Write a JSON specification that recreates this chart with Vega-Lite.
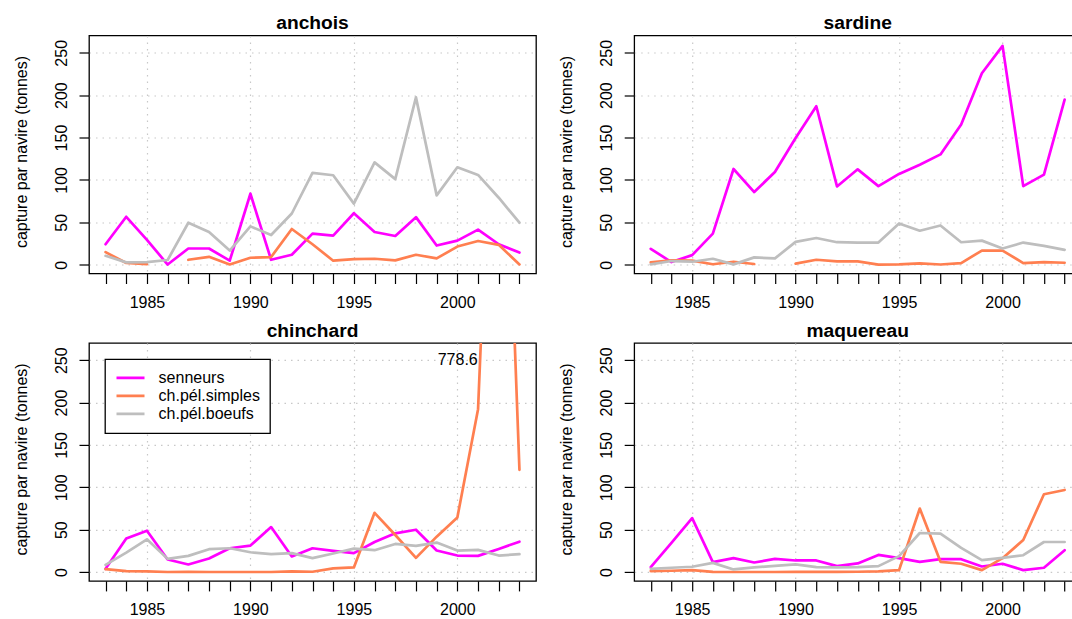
{
  "$schema": "https://vega.github.io/schema/vega-lite/v6.json",
  "padding": {"left": 12, "top": 13.5, "right": 0, "bottom": 0},
  "bounds": "flush",
  "columns": 2,
  "spacing": {"row": 69.4, "column": 98.2},
  "resolve": {"legend": {"color": "independent"}},
  "datasets": {
    "anchois": [
      {"flotte": "senneurs", "annee": 1983, "capture": 24.1},
      {"flotte": "senneurs", "annee": 1984, "capture": 56.5},
      {"flotte": "senneurs", "annee": 1985, "capture": 29.2},
      {"flotte": "senneurs", "annee": 1986, "capture": 0.2},
      {"flotte": "senneurs", "annee": 1987, "capture": 19.1},
      {"flotte": "senneurs", "annee": 1988, "capture": 19.1},
      {"flotte": "senneurs", "annee": 1989, "capture": 4.7},
      {"flotte": "senneurs", "annee": 1990, "capture": 83.7},
      {"flotte": "senneurs", "annee": 1991, "capture": 5.8},
      {"flotte": "senneurs", "annee": 1992, "capture": 11.7},
      {"flotte": "senneurs", "annee": 1993, "capture": 36.6},
      {"flotte": "senneurs", "annee": 1994, "capture": 34.3},
      {"flotte": "senneurs", "annee": 1995, "capture": 60.7},
      {"flotte": "senneurs", "annee": 1996, "capture": 38.6},
      {"flotte": "senneurs", "annee": 1997, "capture": 33.9},
      {"flotte": "senneurs", "annee": 1998, "capture": 56.1},
      {"flotte": "senneurs", "annee": 1999, "capture": 22.6},
      {"flotte": "senneurs", "annee": 2000, "capture": 28.4},
      {"flotte": "senneurs", "annee": 2001, "capture": 41.3},
      {"flotte": "senneurs", "annee": 2002, "capture": 24.1},
      {"flotte": "senneurs", "annee": 2003, "capture": 14.4},
      {"flotte": "ch.pél.simples", "annee": 1983, "capture": 14.8},
      {"flotte": "ch.pél.simples", "annee": 1984, "capture": 2.0},
      {"flotte": "ch.pél.simples", "annee": 1985, "capture": 0.5},
      {"flotte": "ch.pél.simples", "annee": 1986, "capture": null},
      {"flotte": "ch.pél.simples", "annee": 1987, "capture": 5.8},
      {"flotte": "ch.pél.simples", "annee": 1988, "capture": 9.3},
      {"flotte": "ch.pél.simples", "annee": 1989, "capture": 0.2},
      {"flotte": "ch.pél.simples", "annee": 1990, "capture": 8.2},
      {"flotte": "ch.pél.simples", "annee": 1991, "capture": 9.0},
      {"flotte": "ch.pél.simples", "annee": 1992, "capture": 42.1},
      {"flotte": "ch.pél.simples", "annee": 1993, "capture": 24.1},
      {"flotte": "ch.pél.simples", "annee": 1994, "capture": 4.7},
      {"flotte": "ch.pél.simples", "annee": 1995, "capture": 6.6},
      {"flotte": "ch.pél.simples", "annee": 1996, "capture": 7.0},
      {"flotte": "ch.pél.simples", "annee": 1997, "capture": 5.1},
      {"flotte": "ch.pél.simples", "annee": 1998, "capture": 11.7},
      {"flotte": "ch.pél.simples", "annee": 1999, "capture": 7.4},
      {"flotte": "ch.pél.simples", "annee": 2000, "capture": 21.4},
      {"flotte": "ch.pél.simples", "annee": 2001, "capture": 28.0},
      {"flotte": "ch.pél.simples", "annee": 2002, "capture": 23.4},
      {"flotte": "ch.pél.simples", "annee": 2003, "capture": 0.3},
      {"flotte": "ch.pél.boeufs", "annee": 1983, "capture": 10.5},
      {"flotte": "ch.pél.boeufs", "annee": 1984, "capture": 2.7},
      {"flotte": "ch.pél.boeufs", "annee": 1985, "capture": 3.1},
      {"flotte": "ch.pél.boeufs", "annee": 1986, "capture": 5.5},
      {"flotte": "ch.pél.boeufs", "annee": 1987, "capture": 49.5},
      {"flotte": "ch.pél.boeufs", "annee": 1988, "capture": 38.6},
      {"flotte": "ch.pél.boeufs", "annee": 1989, "capture": 16.7},
      {"flotte": "ch.pél.boeufs", "annee": 1990, "capture": 45.2},
      {"flotte": "ch.pél.boeufs", "annee": 1991, "capture": 35.0},
      {"flotte": "ch.pél.boeufs", "annee": 1992, "capture": 60.4},
      {"flotte": "ch.pél.boeufs", "annee": 1993, "capture": 108.3},
      {"flotte": "ch.pél.boeufs", "annee": 1994, "capture": 105.5},
      {"flotte": "ch.pél.boeufs", "annee": 1995, "capture": 72.0},
      {"flotte": "ch.pél.boeufs", "annee": 1996, "capture": 120.7},
      {"flotte": "ch.pél.boeufs", "annee": 1997, "capture": 100.9},
      {"flotte": "ch.pél.boeufs", "annee": 1998, "capture": 197.4},
      {"flotte": "ch.pél.boeufs", "annee": 1999, "capture": 81.8},
      {"flotte": "ch.pél.boeufs", "annee": 2000, "capture": 114.9},
      {"flotte": "ch.pél.boeufs", "annee": 2001, "capture": 105.9},
      {"flotte": "ch.pél.boeufs", "annee": 2002, "capture": 79.0},
      {"flotte": "ch.pél.boeufs", "annee": 2003, "capture": 49.5}
    ],
    "sardine": [
      {"flotte": "senneurs", "annee": 1983, "capture": 18.7},
      {"flotte": "senneurs", "annee": 1984, "capture": 3.1},
      {"flotte": "senneurs", "annee": 1985, "capture": 11.3},
      {"flotte": "senneurs", "annee": 1986, "capture": 36.6},
      {"flotte": "senneurs", "annee": 1987, "capture": 112.9},
      {"flotte": "senneurs", "annee": 1988, "capture": 85.7},
      {"flotte": "senneurs", "annee": 1989, "capture": 109.4},
      {"flotte": "senneurs", "annee": 1990, "capture": 149.5},
      {"flotte": "senneurs", "annee": 1991, "capture": 186.9},
      {"flotte": "senneurs", "annee": 1992, "capture": 92.3},
      {"flotte": "senneurs", "annee": 1993, "capture": 112.5},
      {"flotte": "senneurs", "annee": 1994, "capture": 92.7},
      {"flotte": "senneurs", "annee": 1995, "capture": 107.1},
      {"flotte": "senneurs", "annee": 1996, "capture": 118.0},
      {"flotte": "senneurs", "annee": 1997, "capture": 130.1},
      {"flotte": "senneurs", "annee": 1998, "capture": 165.5},
      {"flotte": "senneurs", "annee": 1999, "capture": 225.9},
      {"flotte": "senneurs", "annee": 2000, "capture": 258.2},
      {"flotte": "senneurs", "annee": 2001, "capture": 92.7},
      {"flotte": "senneurs", "annee": 2002, "capture": 106.3},
      {"flotte": "senneurs", "annee": 2003, "capture": 194.7},
      {"flotte": "ch.pél.simples", "annee": 1983, "capture": 2.7},
      {"flotte": "ch.pél.simples", "annee": 1984, "capture": 5.1},
      {"flotte": "ch.pél.simples", "annee": 1985, "capture": 4.7},
      {"flotte": "ch.pél.simples", "annee": 1986, "capture": 0.5},
      {"flotte": "ch.pél.simples", "annee": 1987, "capture": 3.5},
      {"flotte": "ch.pél.simples", "annee": 1988, "capture": 0.8},
      {"flotte": "ch.pél.simples", "annee": 1989, "capture": null},
      {"flotte": "ch.pél.simples", "annee": 1990, "capture": 1.2},
      {"flotte": "ch.pél.simples", "annee": 1991, "capture": 5.8},
      {"flotte": "ch.pél.simples", "annee": 1992, "capture": 3.9},
      {"flotte": "ch.pél.simples", "annee": 1993, "capture": 3.9},
      {"flotte": "ch.pél.simples", "annee": 1994, "capture": 0.1},
      {"flotte": "ch.pél.simples", "annee": 1995, "capture": 0.4},
      {"flotte": "ch.pél.simples", "annee": 1996, "capture": 1.6},
      {"flotte": "ch.pél.simples", "annee": 1997, "capture": 0.2},
      {"flotte": "ch.pél.simples", "annee": 1998, "capture": 1.9},
      {"flotte": "ch.pél.simples", "annee": 1999, "capture": 16.7},
      {"flotte": "ch.pél.simples", "annee": 2000, "capture": 16.7},
      {"flotte": "ch.pél.simples", "annee": 2001, "capture": 1.9},
      {"flotte": "ch.pél.simples", "annee": 2002, "capture": 3.1},
      {"flotte": "ch.pél.simples", "annee": 2003, "capture": 2.3},
      {"flotte": "ch.pél.boeufs", "annee": 1983, "capture": 0.4},
      {"flotte": "ch.pél.boeufs", "annee": 1984, "capture": 4.3},
      {"flotte": "ch.pél.boeufs", "annee": 1985, "capture": 3.5},
      {"flotte": "ch.pél.boeufs", "annee": 1986, "capture": 7.0},
      {"flotte": "ch.pél.boeufs", "annee": 1987, "capture": 0.4},
      {"flotte": "ch.pél.boeufs", "annee": 1988, "capture": 8.6},
      {"flotte": "ch.pél.boeufs", "annee": 1989, "capture": 7.4},
      {"flotte": "ch.pél.boeufs", "annee": 1990, "capture": 26.9},
      {"flotte": "ch.pél.boeufs", "annee": 1991, "capture": 31.5},
      {"flotte": "ch.pél.boeufs", "annee": 1992, "capture": 26.5},
      {"flotte": "ch.pél.boeufs", "annee": 1993, "capture": 26.1},
      {"flotte": "ch.pél.boeufs", "annee": 1994, "capture": 26.1},
      {"flotte": "ch.pél.boeufs", "annee": 1995, "capture": 48.7},
      {"flotte": "ch.pél.boeufs", "annee": 1996, "capture": 40.1},
      {"flotte": "ch.pél.boeufs", "annee": 1997, "capture": 46.3},
      {"flotte": "ch.pél.boeufs", "annee": 1998, "capture": 26.5},
      {"flotte": "ch.pél.boeufs", "annee": 1999, "capture": 28.4},
      {"flotte": "ch.pél.boeufs", "annee": 2000, "capture": 19.1},
      {"flotte": "ch.pél.boeufs", "annee": 2001, "capture": 26.1},
      {"flotte": "ch.pél.boeufs", "annee": 2002, "capture": 22.2},
      {"flotte": "ch.pél.boeufs", "annee": 2003, "capture": 17.5}
    ],
    "chinchard": [
      {"flotte": "senneurs", "annee": 1983, "capture": 3.9},
      {"flotte": "senneurs", "annee": 1984, "capture": 39.5},
      {"flotte": "senneurs", "annee": 1985, "capture": 48.8},
      {"flotte": "senneurs", "annee": 1986, "capture": 14.8},
      {"flotte": "senneurs", "annee": 1987, "capture": 9.0},
      {"flotte": "senneurs", "annee": 1988, "capture": 16.0},
      {"flotte": "senneurs", "annee": 1989, "capture": 28.1},
      {"flotte": "senneurs", "annee": 1990, "capture": 31.3},
      {"flotte": "senneurs", "annee": 1991, "capture": 53.1},
      {"flotte": "senneurs", "annee": 1992, "capture": 18.4},
      {"flotte": "senneurs", "annee": 1993, "capture": 28.1},
      {"flotte": "senneurs", "annee": 1994, "capture": 25.0},
      {"flotte": "senneurs", "annee": 1995, "capture": 22.3},
      {"flotte": "senneurs", "annee": 1996, "capture": 35.5},
      {"flotte": "senneurs", "annee": 1997, "capture": 45.7},
      {"flotte": "senneurs", "annee": 1998, "capture": 50.0},
      {"flotte": "senneurs", "annee": 1999, "capture": 25.4},
      {"flotte": "senneurs", "annee": 2000, "capture": 19.5},
      {"flotte": "senneurs", "annee": 2001, "capture": 19.1},
      {"flotte": "senneurs", "annee": 2002, "capture": 27.3},
      {"flotte": "senneurs", "annee": 2003, "capture": 35.9},
      {"flotte": "ch.pél.simples", "annee": 1983, "capture": 3.5},
      {"flotte": "ch.pél.simples", "annee": 1984, "capture": 1.2},
      {"flotte": "ch.pél.simples", "annee": 1985, "capture": 0.8},
      {"flotte": "ch.pél.simples", "annee": 1986, "capture": 0.1},
      {"flotte": "ch.pél.simples", "annee": 1987, "capture": 0.4},
      {"flotte": "ch.pél.simples", "annee": 1988, "capture": 0.1},
      {"flotte": "ch.pél.simples", "annee": 1989, "capture": 0.1},
      {"flotte": "ch.pél.simples", "annee": 1990, "capture": 0.1},
      {"flotte": "ch.pél.simples", "annee": 1991, "capture": 0.1},
      {"flotte": "ch.pél.simples", "annee": 1992, "capture": 0.8},
      {"flotte": "ch.pél.simples", "annee": 1993, "capture": 0.4},
      {"flotte": "ch.pél.simples", "annee": 1994, "capture": 4.3},
      {"flotte": "ch.pél.simples", "annee": 1995, "capture": 5.5},
      {"flotte": "ch.pél.simples", "annee": 1996, "capture": 69.9},
      {"flotte": "ch.pél.simples", "annee": 1997, "capture": 43.8},
      {"flotte": "ch.pél.simples", "annee": 1998, "capture": 16.8},
      {"flotte": "ch.pél.simples", "annee": 1999, "capture": 41.8},
      {"flotte": "ch.pél.simples", "annee": 2000, "capture": 64.5},
      {"flotte": "ch.pél.simples", "annee": 2001, "capture": 192.2},
      {"flotte": "ch.pél.simples", "annee": 2002, "capture": 778.6},
      {"flotte": "ch.pél.simples", "annee": 2003, "capture": 120.7},
      {"flotte": "ch.pél.boeufs", "annee": 1983, "capture": 8.6},
      {"flotte": "ch.pél.boeufs", "annee": 1984, "capture": 23.0},
      {"flotte": "ch.pél.boeufs", "annee": 1985, "capture": 38.7},
      {"flotte": "ch.pél.boeufs", "annee": 1986, "capture": 15.6},
      {"flotte": "ch.pél.boeufs", "annee": 1987, "capture": 19.1},
      {"flotte": "ch.pél.boeufs", "annee": 1988, "capture": 27.0},
      {"flotte": "ch.pél.boeufs", "annee": 1989, "capture": 28.1},
      {"flotte": "ch.pél.boeufs", "annee": 1990, "capture": 23.4},
      {"flotte": "ch.pél.boeufs", "annee": 1991, "capture": 21.1},
      {"flotte": "ch.pél.boeufs", "annee": 1992, "capture": 22.3},
      {"flotte": "ch.pél.boeufs", "annee": 1993, "capture": 16.4},
      {"flotte": "ch.pél.boeufs", "annee": 1994, "capture": 21.9},
      {"flotte": "ch.pél.boeufs", "annee": 1995, "capture": 27.7},
      {"flotte": "ch.pél.boeufs", "annee": 1996, "capture": 25.8},
      {"flotte": "ch.pél.boeufs", "annee": 1997, "capture": 33.2},
      {"flotte": "ch.pél.boeufs", "annee": 1998, "capture": 30.9},
      {"flotte": "ch.pél.boeufs", "annee": 1999, "capture": 34.8},
      {"flotte": "ch.pél.boeufs", "annee": 2000, "capture": 25.4},
      {"flotte": "ch.pél.boeufs", "annee": 2001, "capture": 26.2},
      {"flotte": "ch.pél.boeufs", "annee": 2002, "capture": 19.5},
      {"flotte": "ch.pél.boeufs", "annee": 2003, "capture": 21.1}
    ],
    "maquereau": [
      {"flotte": "senneurs", "annee": 1983, "capture": 5.9},
      {"flotte": "senneurs", "annee": 1984, "capture": 34.4},
      {"flotte": "senneurs", "annee": 1985, "capture": 63.7},
      {"flotte": "senneurs", "annee": 1986, "capture": 11.7},
      {"flotte": "senneurs", "annee": 1987, "capture": 16.4},
      {"flotte": "senneurs", "annee": 1988, "capture": 11.3},
      {"flotte": "senneurs", "annee": 1989, "capture": 15.6},
      {"flotte": "senneurs", "annee": 1990, "capture": 13.7},
      {"flotte": "senneurs", "annee": 1991, "capture": 13.7},
      {"flotte": "senneurs", "annee": 1992, "capture": 7.0},
      {"flotte": "senneurs", "annee": 1993, "capture": 10.2},
      {"flotte": "senneurs", "annee": 1994, "capture": 20.3},
      {"flotte": "senneurs", "annee": 1995, "capture": 16.4},
      {"flotte": "senneurs", "annee": 1996, "capture": 12.1},
      {"flotte": "senneurs", "annee": 1997, "capture": 15.2},
      {"flotte": "senneurs", "annee": 1998, "capture": 15.2},
      {"flotte": "senneurs", "annee": 1999, "capture": 6.6},
      {"flotte": "senneurs", "annee": 2000, "capture": 9.8},
      {"flotte": "senneurs", "annee": 2001, "capture": 2.3},
      {"flotte": "senneurs", "annee": 2002, "capture": 5.1},
      {"flotte": "senneurs", "annee": 2003, "capture": 25.8},
      {"flotte": "ch.pél.simples", "annee": 1983, "capture": 1.2},
      {"flotte": "ch.pél.simples", "annee": 1984, "capture": 1.6},
      {"flotte": "ch.pél.simples", "annee": 1985, "capture": 2.3},
      {"flotte": "ch.pél.simples", "annee": 1986, "capture": 0.2},
      {"flotte": "ch.pél.simples", "annee": 1987, "capture": 0.1},
      {"flotte": "ch.pél.simples", "annee": 1988, "capture": 0.1},
      {"flotte": "ch.pél.simples", "annee": 1989, "capture": 0.1},
      {"flotte": "ch.pél.simples", "annee": 1990, "capture": 0.2},
      {"flotte": "ch.pél.simples", "annee": 1991, "capture": 0.2},
      {"flotte": "ch.pél.simples", "annee": 1992, "capture": 0.3},
      {"flotte": "ch.pél.simples", "annee": 1993, "capture": 0.4},
      {"flotte": "ch.pél.simples", "annee": 1994, "capture": 0.8},
      {"flotte": "ch.pél.simples", "annee": 1995, "capture": 2.3},
      {"flotte": "ch.pél.simples", "annee": 1996, "capture": 75.0},
      {"flotte": "ch.pél.simples", "annee": 1997, "capture": 12.1},
      {"flotte": "ch.pél.simples", "annee": 1998, "capture": 9.8},
      {"flotte": "ch.pél.simples", "annee": 1999, "capture": 2.3},
      {"flotte": "ch.pél.simples", "annee": 2000, "capture": 16.4},
      {"flotte": "ch.pél.simples", "annee": 2001, "capture": 37.9},
      {"flotte": "ch.pél.simples", "annee": 2002, "capture": 91.8},
      {"flotte": "ch.pél.simples", "annee": 2003, "capture": 96.9},
      {"flotte": "ch.pél.boeufs", "annee": 1983, "capture": 3.9},
      {"flotte": "ch.pél.boeufs", "annee": 1984, "capture": 5.1},
      {"flotte": "ch.pél.boeufs", "annee": 1985, "capture": 6.3},
      {"flotte": "ch.pél.boeufs", "annee": 1986, "capture": 10.9},
      {"flotte": "ch.pél.boeufs", "annee": 1987, "capture": 3.1},
      {"flotte": "ch.pél.boeufs", "annee": 1988, "capture": 5.5},
      {"flotte": "ch.pél.boeufs", "annee": 1989, "capture": 7.4},
      {"flotte": "ch.pél.boeufs", "annee": 1990, "capture": 9.0},
      {"flotte": "ch.pél.boeufs", "annee": 1991, "capture": 5.9},
      {"flotte": "ch.pél.boeufs", "annee": 1992, "capture": 5.5},
      {"flotte": "ch.pél.boeufs", "annee": 1993, "capture": 5.9},
      {"flotte": "ch.pél.boeufs", "annee": 1994, "capture": 7.0},
      {"flotte": "ch.pél.boeufs", "annee": 1995, "capture": 18.8},
      {"flotte": "ch.pél.boeufs", "annee": 1996, "capture": 46.1},
      {"flotte": "ch.pél.boeufs", "annee": 1997, "capture": 45.3},
      {"flotte": "ch.pél.boeufs", "annee": 1998, "capture": 28.5},
      {"flotte": "ch.pél.boeufs", "annee": 1999, "capture": 14.1},
      {"flotte": "ch.pél.boeufs", "annee": 2000, "capture": 16.8},
      {"flotte": "ch.pél.boeufs", "annee": 2001, "capture": 19.9},
      {"flotte": "ch.pél.boeufs", "annee": 2002, "capture": 35.5},
      {"flotte": "ch.pél.boeufs", "annee": 2003, "capture": 35.5}
    ]
  },
  "concat": [
    {
      "width": 447, "height": 238,
      "title": "anchois",
      "data": {"name": "anchois"},
      "mark": {"type": "line", "strokeWidth": 2.7, "strokeJoin": "round", "strokeCap": "round", "clip": true, "invalid": "break-paths-show-domains"},
      "encoding": {
        "x": {"field": "annee", "type": "quantitative", "scale": {"domain": [1982.2, 2003.8], "nice": false, "zero": false},
              "axis": {"title": null, "values": [1983,1984,1985,1986,1987,1988,1989,1990,1991,1992,1993,1994,1995,1996,1997,1998,1999,2000,2001,2002,2003],
                       "labelExpr": "datum.value % 5 === 0 ? toString(datum.value) : ''",
                       "gridOpacity": {"condition": {"test": "datum.value % 5 === 0", "value": 1}, "value": 0}}},
        "y": {"field": "capture", "type": "quantitative", "scale": {"domain": [-10.4, 270.4], "nice": false, "zero": false},
              "axis": {"title": "capture par navire (tonnes)", "values": [0, 50, 100, 150, 200, 250]}},
        "color": {"field": "flotte", "type": "nominal",
                  "scale": {"domain": ["senneurs", "ch.pél.simples", "ch.pél.boeufs"], "range": ["#ff00ff", "#ff7f50", "#bebebe"]},
                  "legend": null}
      }
    },
    {
      "width": 447, "height": 238,
      "title": "sardine",
      "data": {"name": "sardine"},
      "mark": {"type": "line", "strokeWidth": 2.7, "strokeJoin": "round", "strokeCap": "round", "clip": true, "invalid": "break-paths-show-domains"},
      "encoding": {
        "x": {"field": "annee", "type": "quantitative", "scale": {"domain": [1982.2, 2003.8], "nice": false, "zero": false},
              "axis": {"title": null, "values": [1983,1984,1985,1986,1987,1988,1989,1990,1991,1992,1993,1994,1995,1996,1997,1998,1999,2000,2001,2002,2003],
                       "labelExpr": "datum.value % 5 === 0 ? toString(datum.value) : ''",
                       "gridOpacity": {"condition": {"test": "datum.value % 5 === 0", "value": 1}, "value": 0}}},
        "y": {"field": "capture", "type": "quantitative", "scale": {"domain": [-10.4, 270.4], "nice": false, "zero": false},
              "axis": {"title": "capture par navire (tonnes)", "values": [0, 50, 100, 150, 200, 250]}},
        "color": {"field": "flotte", "type": "nominal",
                  "scale": {"domain": ["senneurs", "ch.pél.simples", "ch.pél.boeufs"], "range": ["#ff00ff", "#ff7f50", "#bebebe"]},
                  "legend": null}
      }
    },
    {
      "width": 447, "height": 238,
      "title": "chinchard",
      "data": {"name": "chinchard"},
      "encoding": {
        "x": {"field": "annee", "type": "quantitative", "scale": {"domain": [1982.2, 2003.8], "nice": false, "zero": false},
              "axis": {"title": null, "values": [1983,1984,1985,1986,1987,1988,1989,1990,1991,1992,1993,1994,1995,1996,1997,1998,1999,2000,2001,2002,2003],
                       "labelExpr": "datum.value % 5 === 0 ? toString(datum.value) : ''",
                       "gridOpacity": {"condition": {"test": "datum.value % 5 === 0", "value": 1}, "value": 0}}},
        "y": {"field": "capture", "type": "quantitative", "scale": {"domain": [-10.4, 270.4], "nice": false, "zero": false},
              "axis": {"title": "capture par navire (tonnes)", "values": [0, 50, 100, 150, 200, 250]}}
      },
      "layer": [
        {
          "mark": {"type": "line", "strokeWidth": 2.7, "strokeJoin": "round", "strokeCap": "round", "clip": true, "invalid": "break-paths-show-domains"},
          "encoding": {
            "color": {"field": "flotte", "type": "nominal",
                      "scale": {"domain": ["senneurs", "ch.pél.simples", "ch.pél.boeufs"], "range": ["#ff00ff", "#ff7f50", "#bebebe"]},
                      "legend": {"orient": "none", "legendX": 16, "legendY": 16.3, "title": null,
                                 "symbolType": "stroke", "symbolSize": 784, "symbolStrokeWidth": 2.7,
                                 "labelFont": "Liberation Sans", "labelFontSize": 16, "labelColor": "#000", "labelLimit": 0,
                                 "labelOffset": 12.6, "rowPadding": 0, "clipHeight": 17.3, "padding": 10,
                                 "strokeColor": "#000", "fillColor": "#fff"}}
          }
        },
        {
          "transform": [{"filter": "datum.capture > 270"}],
          "mark": {"type": "text", "align": "right", "baseline": "middle", "dx": -21, "font": "Liberation Sans", "fontSize": 16, "color": "#000"},
          "encoding": {
            "y": {"datum": 250},
            "text": {"field": "capture", "type": "quantitative", "format": ".1f"}
          }
        }
      ]
    },
    {
      "width": 447, "height": 238,
      "title": "maquereau",
      "data": {"name": "maquereau"},
      "mark": {"type": "line", "strokeWidth": 2.7, "strokeJoin": "round", "strokeCap": "round", "clip": true, "invalid": "break-paths-show-domains"},
      "encoding": {
        "x": {"field": "annee", "type": "quantitative", "scale": {"domain": [1982.2, 2003.8], "nice": false, "zero": false},
              "axis": {"title": null, "values": [1983,1984,1985,1986,1987,1988,1989,1990,1991,1992,1993,1994,1995,1996,1997,1998,1999,2000,2001,2002,2003],
                       "labelExpr": "datum.value % 5 === 0 ? toString(datum.value) : ''",
                       "gridOpacity": {"condition": {"test": "datum.value % 5 === 0", "value": 1}, "value": 0}}},
        "y": {"field": "capture", "type": "quantitative", "scale": {"domain": [-10.4, 270.4], "nice": false, "zero": false},
              "axis": {"title": "capture par navire (tonnes)", "values": [0, 50, 100, 150, 200, 250]}},
        "color": {"field": "flotte", "type": "nominal",
                  "scale": {"domain": ["senneurs", "ch.pél.simples", "ch.pél.boeufs"], "range": ["#ff00ff", "#ff7f50", "#bebebe"]},
                  "legend": null}
      }
    }
  ],
  "config": {
    "background": "#ffffff",
    "font": "Liberation Sans",
    "view": {"stroke": "#000", "strokeWidth": 1.3},
    "title": {"font": "Liberation Sans", "fontSize": 19.2, "fontWeight": "bold", "color": "#000", "anchor": "middle", "baseline": "alphabetic", "offset": 2},
    "axis": {"domain": false, "labelFont": "Liberation Sans", "labelFontSize": 16, "labelColor": "#000",
             "tickColor": "#000", "tickWidth": 1.2, "tickSize": 10,
             "gridColor": "#c8c8c8", "gridDash": [1.5, 5], "gridWidth": 1.2,
             "titleFont": "Liberation Sans", "titleFontSize": 16, "titleFontWeight": "normal", "titleColor": "#000"},
    "axisX": {"labelPadding": 11, "labelFlush": false, "labelOverlap": false},
    "axisY": {"labelAngle": 270, "labelAlign": "center", "labelBaseline": "alphabetic", "labelPadding": 13,
              "titleAngle": 270, "titleAlign": "center", "titleBaseline": "alphabetic", "titleX": -63, "titleY": 116},
    "legend": {"strokeWidth": 1.3}
  }
}
